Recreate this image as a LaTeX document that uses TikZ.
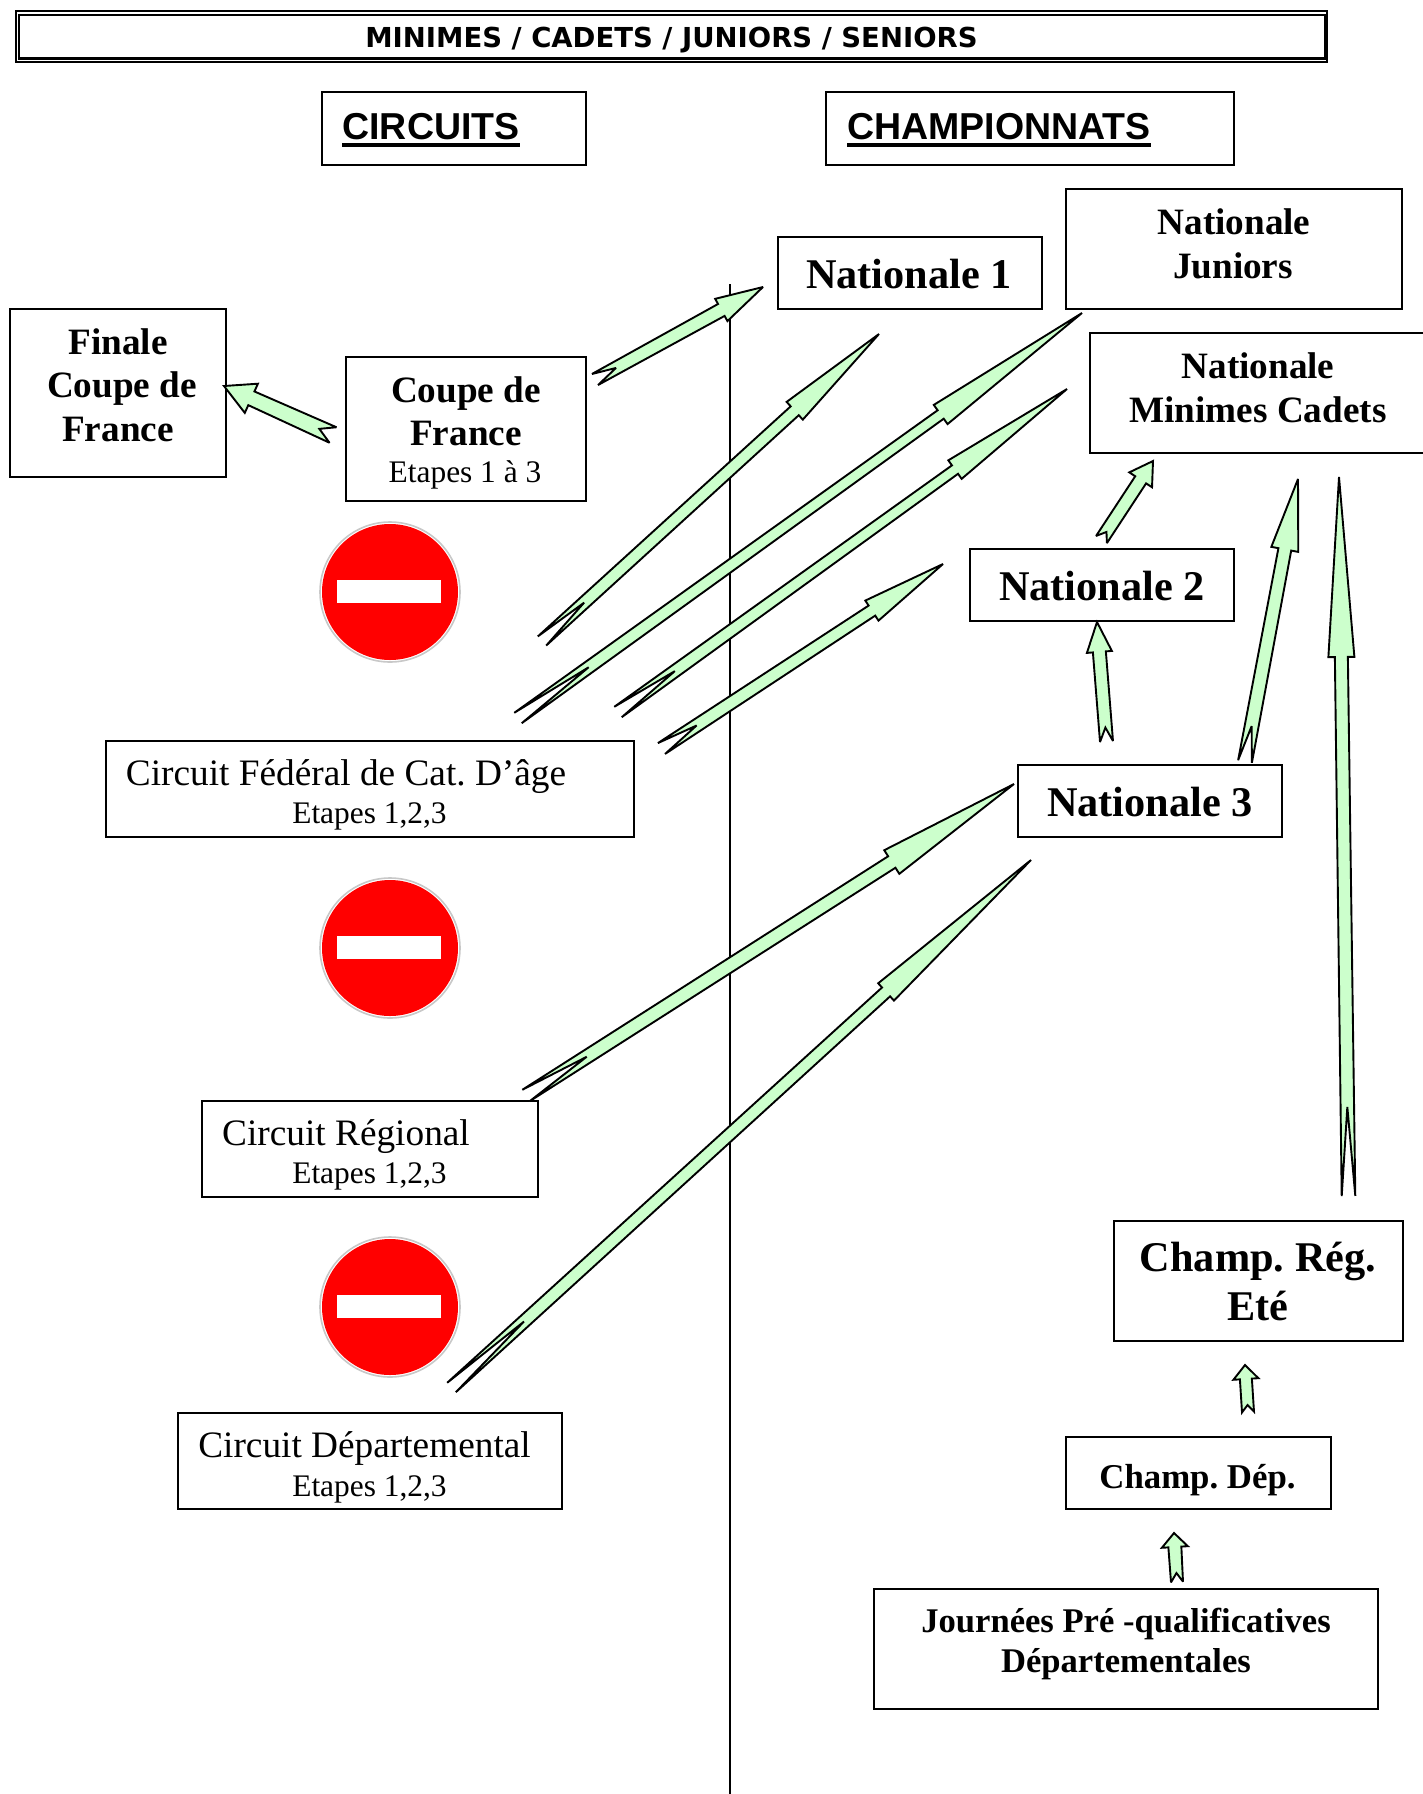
\documentclass[tikz,border=0pt]{standalone}
\usepackage{fontspec}
\usetikzlibrary{calc}
\setmainfont{Liberation Serif}
\newfontfamily\arialf{Liberation Sans}
\newfontfamily\titlef{DejaVu Sans}
\definecolor{arrowgreen}{HTML}{CCFFCC}
\definecolor{signred}{HTML}{FF0000}
\definecolor{signgrey}{HTML}{C8C8C8}
\tikzset{
  bx/.style={draw=black,line width=1.9pt,fill=white,inner sep=0pt,outer sep=0pt},
  fat/.style={draw=black,fill=arrowgreen,line width=1.9pt,line join=miter,miter limit=3},
}
\frenchspacing
\newcommand\fs[1]{\fontsize{#1}{#1}\selectfont}
\newcommand\bfr[1]{\fs{#1}\bfseries}
\newcommand\txtat[3]{\raisebox{\dimexpr\cyy pt-#2pt\relax}[0pt][0pt]{\makebox[0pt]{\kern\dimexpr(#1pt-\cxx pt)*2\relax #3}}}
\newcommand\bxnode[6]{%
  \pgfmathsetmacro\cxx{(#2+#4)/2}\pgfmathsetmacro\cyy{(#3+#5)/2}%
  \pgfmathsetmacro\bw{#4-#2}\pgfmathsetmacro\bh{#5-#3}%
  \node[bx,minimum width=\bw pt,minimum height=\bh pt] (#1) at (\cxx,\cyy) {#6};}
\newcommand\ulbold[1]{\setbox0\hbox{#1}\rlap{\rule[-8pt]{\wd0}{4pt}}\box0}
% tail, head, tail half width, neck half width, wing half width, head length, notch depth
\newcommand\fatarrow[7]{%
  \coordinate (faN) at ($(#2)!#6pt!(#1)$);
  \coordinate (faK) at ($(#1)!#7pt!(#2)$);
  \draw[fat] (#2) -- ($(faN)!#5pt!90:(#2)$) -- ($(faN)!#4pt!90:(#2)$) -- ($(#1)!#3pt!90:(#2)$)
    -- (faK) -- ($(#1)!#3pt!-90:(#2)$) -- ($(faN)!#4pt!-90:(#2)$) -- ($(faN)!#5pt!-90:(#2)$) -- cycle;}
\newcommand\nosign[2]{%
  \node[circle,draw=signgrey,line width=1.6pt,fill=white,minimum size=140pt,inner sep=0pt] (#1) at (390,#2) {};
  \node[circle,fill=signred,minimum size=136pt,inner sep=0pt] (#1r) at (#1.center) {};
  \node[fill=white,minimum width=104pt,minimum height=23pt,inner sep=0pt] (#1b) at (389,#2-0.5) {};}
\begin{document}
\begin{tikzpicture}[x=1pt,y=-1pt]
\useasboundingbox (0,0) rectangle (1422,1794);
\fill[white] (0,0) rectangle (1422,1794);
\coordinate (lt) at (730,284);
\coordinate (lb) at (730,1794);
\draw[line width=1.9pt] (lt) -- (lb);

% title
\node[bx,line width=1.4pt,minimum width=1311pt,minimum height=51pt] (title) at (671.5,36.5) {};
\begin{scope}[bx/.append style={line width=2.8pt}]
\bxnode{titlein}{19}{15}{1325}{58.5}{\txtat{671.5}{47}{\titlef\bfseries\fs{27.5}MINIMES / CADETS / JUNIORS / SENIORS}}
\end{scope}

\bxnode{circ}{322}{92}{586}{165}{\txtat{431}{139}{\arialf\bfseries\fs{37.5}\ulbold{CIRCUITS}}}
\bxnode{champ}{826}{92}{1234}{165}{\txtat{999}{139}{\arialf\bfseries\fs{37.5}\ulbold{CHAMPIONNATS}}}

\bxnode{nat1}{778}{237}{1042}{309}{\txtat{909}{288}{\bfr{42.3}Nationale 1}}
\bxnode{natj}{1066}{189}{1402}{309}{\txtat{1234}{234}{\bfr{37.2}Nationale}\txtat{1233}{278}{\bfr{37.2}Juniors}}
\bxnode{natm}{1090}{333}{1440}{453}{\txtat{1258}{378}{\bfr{37.2}Nationale}\txtat{1258}{422}{\bfr{37.2}Minimes Cadets}}
\bxnode{nat2}{970}{549}{1234}{621}{\txtat{1102}{600}{\bfr{42.3}Nationale 2}}
\bxnode{nat3}{1018}{765}{1282}{837}{\txtat{1150}{816}{\bfr{42.3}Nationale 3}}

\bxnode{finale}{10}{309}{226}{477}{\txtat{118}{354}{\bfr{37.2}Finale}\txtat{122}{397}{\bfr{37.2}Coupe de}\txtat{118}{441}{\bfr{37.2}France}}
\bxnode{coupe}{346}{357}{586}{501}{\txtat{466}{402}{\bfr{37.2}Coupe de}\txtat{466}{445}{\bfr{37.2}France}\txtat{465}{482}{\fs{31.4}Etapes 1 à 3}}

\bxnode{cfed}{106}{741}{634}{837}{\txtat{346}{785}{\fs{37.3}Circuit Fédéral de Cat. D’âge}\txtat{369.5}{823}{\fs{31.4}Etapes 1,2,3}}
\bxnode{creg}{202}{1101}{538}{1197}{\txtat{346}{1145}{\fs{37.3}Circuit Régional}\txtat{369.5}{1183}{\fs{31.4}Etapes 1,2,3}}
\bxnode{cdep}{178}{1413}{562}{1509}{\txtat{364.5}{1457}{\fs{37.3}Circuit Départemental}\txtat{369.5}{1496}{\fs{31.4}Etapes 1,2,3}}

\bxnode{rreg}{1114}{1221}{1403}{1341}{\txtat{1258}{1271}{\bfr{42.3}Champ. Rég.}\txtat{1258}{1320}{\bfr{42.3}Eté}}
\bxnode{rdep}{1066}{1437}{1331}{1509}{\txtat{1197.5}{1488}{\bfr{34.8}Champ. Dép.}}
\bxnode{jour}{874}{1589}{1378}{1709}{\txtat{1126}{1632}{\bfr{34.6}Journées Pré -qualificatives}\txtat{1126}{1672}{\bfr{34.6}Départementales}}

\nosign{s1}{592}
\nosign{s2}{948}
\nosign{s3}{1307}

% arrows
\coordinate (a1t) at (595,379.5);   \coordinate (a1h) at (763,287);
\coordinate (a2t) at (542,641);     \coordinate (a2h) at (879,334);
\coordinate (a3t) at (518,718);     \coordinate (a3h) at (1082,313);
\coordinate (a4t) at (618,712);     \coordinate (a4h) at (1067,389);
\coordinate (a5t) at (661.5,748.5); \coordinate (a5h) at (943,564);
\coordinate (a6t) at (1101.5,539.5);\coordinate (a6h) at (1153,461);
\coordinate (a7t) at (1106.5,741.5);\coordinate (a7h) at (1097,622);
\coordinate (a8t) at (1245,761.5);  \coordinate (a8h) at (1298,479);
\coordinate (a9t) at (1348.5,1196); \coordinate (a9h) at (1339,477);
\coordinate (a10t) at (526,1095.5); \coordinate (a10h) at (1014,784);
\coordinate (a11t) at (451.5,1387.5);\coordinate (a11h) at (1031,860);
\coordinate (a12t) at (333,435);    \coordinate (a12h) at (224,386);
\coordinate (a13t) at (1248,1412);  \coordinate (a13h) at (1245,1365);
\coordinate (a14t) at (1177,1582);  \coordinate (a14h) at (1174,1533);

\fatarrow{a1t}{a1h}{6.3}{6.8}{12.7}{47.6}{24}
\fatarrow{a2t}{a2h}{6.2}{6}{12}{114}{57}
\fatarrow{a3t}{a3h}{6.4}{5.2}{11.8}{174}{87}
\fatarrow{a4t}{a4h}{6.4}{5.2}{11.4}{138}{70}
\fatarrow{a5t}{a5h}{6.5}{6}{12}{85}{42}
\fatarrow{a6t}{a6h}{6.5}{6.5}{13.6}{22.5}{9}
\fatarrow{a7t}{a7h}{6.5}{6.5}{12.5}{30}{14}
\fatarrow{a8t}{a8h}{7}{6.5}{13.7}{71.6}{36}
\fatarrow{a9t}{a9h}{6.8}{6.5}{13}{180}{89}
\fatarrow{a10t}{a10h}{6.8}{6.8}{14}{145}{72}
\fatarrow{a11t}{a11h}{6.4}{6}{11.7}{196}{98}
\fatarrow{a12t}{a12h}{8.5}{7.5}{16}{30}{15}
\fatarrow{a13t}{a13h}{6}{6}{12.5}{14}{7}
\fatarrow{a14t}{a14h}{6}{6.5}{13}{14}{9}
\end{tikzpicture}
\end{document}
